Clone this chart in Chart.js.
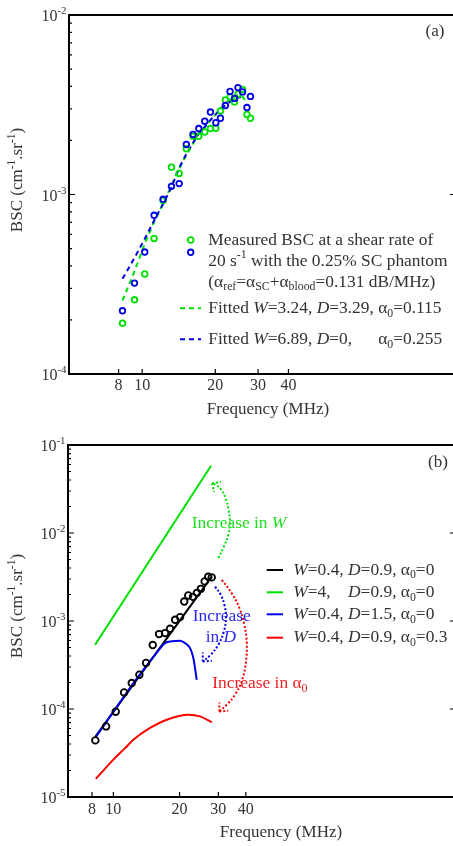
<!DOCTYPE html>
<html><head><meta charset="utf-8">
<script src="https://cdn.jsdelivr.net/npm/chart.js@4/dist/chart.umd.min.js"></script>
<style>
html,body{margin:0;padding:0;background:#fff;overflow:hidden;width:453px;height:846px;}
#wa{position:absolute;left:0;top:0;}
#wb{position:absolute;left:0;top:420px;}
canvas{display:block;}
</style></head><body>
<div id="wa"><canvas id="ca" width="470" height="420"></canvas></div>
<div id="wb"><canvas id="cb" width="470" height="426"></canvas></div>
<script>
// ---------- Panel (a) data ----------
const freqA = [8.3, 9.3, 10.25, 11.2, 12.2, 13.2, 14.2, 15.2, 16.2, 17.1, 18.1, 19.1, 20.1, 21.0, 22.0, 23.0, 24.0, 24.8, 25.9, 27.0, 27.9];
const measGreenA = [1.92e-4, 2.59e-4, 3.61e-4, 5.69e-4, 9.27e-4, 1.42e-3, 1.31e-3, 1.80e-3, 2.11e-3, 2.11e-3, 2.23e-3, 2.33e-3, 2.34e-3, 2.92e-3, 3.36e-3, 3.50e-3, 3.28e-3, 3.62e-3, 3.85e-3, 2.79e-3, 2.66e-3];
const measBlueA = [2.25e-4, 3.21e-4, 4.78e-4, 7.66e-4, 9.40e-4, 1.11e-3, 1.15e-3, 1.90e-3, 2.16e-3, 2.33e-3, 2.56e-3, 2.88e-3, 2.51e-3, 2.66e-3, 3.13e-3, 3.75e-3, 3.43e-3, 3.94e-3, 3.73e-3, 3.05e-3, 3.52e-3];
const fitFreqGreenA = [8.3, 9.3, 10.25, 11.2, 12.2, 13.2, 14.2, 15.2, 16.2, 17.1, 18.1, 19.1, 20.1, 21.0, 22.0, 23.0, 24.0, 24.8, 25.9, 27.0];
const fitGreenA = [2.57e-4, 3.74e-4, 5.31e-4, 7.02e-4, 8.89e-4, 1.125e-3, 1.394e-3, 1.654e-3, 1.922e-3, 2.185e-3, 2.38e-3, 2.594e-3, 2.80e-3, 3.01e-3, 3.21e-3, 3.38e-3, 3.50e-3, 3.58e-3, 3.50e-3, 3.21e-3];
const fitFreqBlueA = [8.3, 9.3, 10.25, 11.2, 12.2, 13.2, 14.2, 15.2, 16.2, 17.1, 18.1, 19.1, 20.1, 21.0, 22.0, 23.0, 24.0, 24.8, 25.9];
const fitBlueA = [3.39e-4, 4.44e-4, 5.67e-4, 7.17e-4, 8.89e-4, 1.101e-3, 1.40e-3, 1.68e-3, 1.94e-3, 2.18e-3, 2.38e-3, 2.594e-3, 2.80e-3, 2.975e-3, 3.147e-3, 3.28e-3, 3.38e-3, 3.455e-3, 3.50e-3];
const xTicksA = [8, 10, 20, 30, 40];
const yTicksA = [1e-4, 1e-3, 1e-2];
const yExpA = ['-4', '-3', '-2'];

// ---------- Panel (b) data ----------
const freqB = [8.28, 9.27, 10.25, 11.19, 12.12, 13.13, 14.08, 15.1, 16.13, 17.18, 18.1, 19.08, 20.1, 21.0, 21.9, 23.0, 24.0, 25.0, 26.0, 27.0, 28.0];
const measB = [4.40e-5, 6.34e-5, 9.32e-5, 1.543e-4, 1.973e-4, 2.45e-4, 3.33e-4, 5.33e-4, 7.10e-4, 7.29e-4, 8.15e-4, 1.032e-3, 1.107e-3, 1.664e-3, 1.948e-3, 1.88e-3, 2.09e-3, 2.32e-3, 2.82e-3, 3.18e-3, 3.13e-3];
const blackFreqB = [8.3, 28.0];
const blackB = [4.89e-5, 3.20e-3];
const greenFreqB = [8.26, 27.8];
const greenB = [5.37e-4, 5.82e-2];
const blueFreqB = [8.28, 10.0, 11.19, 12.55, 14.08, 15.47, 17.18, 18.49, 20.1, 21.18, 22.32, 23.1, 23.93];
const blueB = [4.72e-5, 9.3e-5, 1.39e-4, 2.09e-4, 3.05e-4, 4.13e-4, 5.61e-4, 5.88e-4, 5.96e-4, 5.61e-4, 4.92e-4, 3.79e-4, 2.15e-4];
const redFreqB = [8.32, 10.0, 11.3, 12.33, 14.68, 17.49, 21.93, 24.77, 28.02];
const redB = [1.605e-5, 2.66e-5, 3.59e-5, 4.48e-5, 6.09e-5, 7.56e-5, 8.62e-5, 8.24e-5, 7.05e-5];
const arrowGreenF = [30.0, 31.8, 33.3, 33.9, 33.4, 32.4, 30.8, 29.3, 28.1];
const arrowGreenV = [5.18e-3, 7.01e-3, 9.52e-3, 1.29e-2, 1.83e-2, 2.48e-2, 3.14e-2, 3.52e-2, 3.67e-2];
const arrowBlueF = [29.0, 30.8, 31.96, 32.5, 31.8, 30.0, 27.7, 25.5];
const arrowBlueV = [2.46e-3, 1.98e-3, 1.53e-3, 1.12e-3, 7.6e-4, 5.37e-4, 4.13e-4, 3.47e-4];
const arrowRedF = [31.1, 34.5, 37.4, 39.4, 40.4, 40.0, 38.3, 35.7, 32.8, 30.3];
const arrowRedV = [2.94e-3, 2.07e-3, 1.40e-3, 9.05e-4, 5.61e-4, 3.33e-4, 2.06e-4, 1.45e-4, 1.12e-4, 9.39e-5];
const xTicksB = [8, 10, 20, 30, 40];
const yTicksB = [1e-5, 1e-4, 1e-3, 1e-2, 1e-1];
const yExpB = ['-5', '-4', '-3', '-2', '-1'];

// ---------- colours / text ----------
const C_GREEN = '#00e000', C_BLUE = '#0000e6', C_RED = '#ff0000', C_TXT = '#333333';
const FAM = '"Liberation Serif", "Times New Roman", serif';

function pts(xs, ys) { return xs.map((x, i) => ({x: x, y: ys[i]})); }
function fnt(size, it) { return (it ? 'italic ' : '') + size.toFixed(1) + 'px ' + FAM; }
function partSize(p, size) { return (p.sub || p.sup) ? size * 0.68 : size; }
function richWidth(ctx, parts, size) {
  let w = 0;
  parts.forEach(p => { ctx.font = fnt(partSize(p, size), p.it); w += ctx.measureText(p.t).width; });
  return w;
}
function drawRich(ctx, parts, x, y, size, color, align) {
  const w = richWidth(ctx, parts, size);
  let cx = align === 'center' ? x - w / 2 : (align === 'right' ? x - w : x);
  const pos = [];
  ctx.fillStyle = color; ctx.textBaseline = 'middle'; ctx.textAlign = 'left';
  parts.forEach(p => {
    const s = partSize(p, size);
    ctx.font = fnt(s, p.it);
    const dy = p.sub ? size * 0.30 : (p.sup ? -size * 0.34 : 0);
    pos.push(cx);
    ctx.fillText(p.t, cx, y + dy);
    cx += ctx.measureText(p.t).width;
  });
  return pos;
}

function drawAxesFrame(chart, xTicks, yTicks, yExp, xLabelY) {
  const ctx = chart.ctx, a = chart.chartArea, xs = chart.scales.x, ys = chart.scales.y;
  ctx.save();
  ctx.strokeStyle = '#000'; ctx.lineWidth = 1.2;
  const dMin = Math.round(Math.log10(ys.min)), dMax = Math.round(Math.log10(ys.max));
  ctx.beginPath();
  for (let d = dMin; d <= dMax; d++) {
    for (let k = 1; k <= 9; k++) {
      const v = k * Math.pow(10, d);
      if (v > ys.max * 1.0001) break;
      const py = ys.getPixelForValue(v);
      const len = k === 1 ? 6 : 3;
      ctx.moveTo(a.left, py); ctx.lineTo(a.left + len, py);
      ctx.moveTo(a.right, py); ctx.lineTo(a.right - len, py);
    }
  }
  xTicks.forEach(t => {
    const px = xs.getPixelForValue(t);
    ctx.moveTo(px, a.bottom); ctx.lineTo(px, a.bottom - 5);
  });
  ctx.stroke();
  ctx.lineWidth = 2;
  ctx.strokeRect(a.left, a.top, a.right - a.left, a.bottom - a.top);
  ctx.fillStyle = C_TXT; ctx.font = fnt(16, false); ctx.textAlign = 'center'; ctx.textBaseline = 'middle';
  xTicks.forEach(t => { ctx.fillText(String(t), xs.getPixelForValue(t), xLabelY); });
  yTicks.forEach((t, i) => {
    drawRich(ctx, [{t: '10'}, {t: yExp[i], sup: 1}], a.left - 2.5, ys.getPixelForValue(t) + 2, 16, C_TXT, 'right');
  });
  ctx.restore();
}
function drawYTitle(ctx, cx, cy) {
  ctx.save(); ctx.translate(cx, cy); ctx.rotate(-Math.PI / 2);
  drawRich(ctx, [{t: 'BSC (cm'}, {t: '-1', sup: 1}, {t: '.sr'}, {t: '-1', sup: 1}, {t: ')'}], 0, 0, 17, C_TXT, 'center');
  ctx.restore();
}
function drawXTitle(ctx, cx, cy) {
  drawRich(ctx, [{t: 'Frequency (MHz)'}], cx, cy, 17, C_TXT, 'center');
}

Chart.defaults.font.family = FAM;

// ---------- Chart (a) ----------
const plugA = {
  id: 'decoA',
  afterDraw(chart) {
    const ctx = chart.ctx;
    drawAxesFrame(chart, xTicksA, yTicksA, yExpA, 386);
    drawYTitle(ctx, 18, 180);
    drawXTitle(ctx, 268, 410);
    ctx.save();
    drawRich(ctx, [{t: '(a)'}], 435, 32, 17, C_TXT, 'center');
    ctx.lineWidth = 1.8;
    [[C_GREEN, 240], [C_BLUE, 252.3]].forEach(m => {
      ctx.strokeStyle = m[0]; ctx.beginPath(); ctx.arc(190.7, m[1], 2.8, 0, 2 * Math.PI); ctx.stroke();
    });
    const L = 208.3, S = 17.4;
    drawRich(ctx, [{t: 'Measured BSC at a shear rate of'}], L, 240, S, C_TXT, 'left');
    drawRich(ctx, [{t: '20 s'}, {t: '-1', sup: 1}, {t: ' with the 0.25% SC phantom'}], L, 261, S, C_TXT, 'left');
    drawRich(ctx, [{t: '(α'}, {t: 'ref', sub: 1}, {t: '=α'}, {t: 'SC', sub: 1}, {t: '+α'}, {t: 'blood', sub: 1}, {t: '=0.131 dB/MHz)'}], L, 282, S, C_TXT, 'left');
    ctx.lineWidth = 2; ctx.setLineDash([5, 4]);
    [[C_GREEN, 308.3], [C_BLUE, 339.3]].forEach(m => {
      ctx.strokeStyle = m[0]; ctx.beginPath(); ctx.moveTo(180, m[1]); ctx.lineTo(201, m[1]); ctx.stroke();
    });
    ctx.setLineDash([]);
    const p4 = drawRich(ctx, [{t: 'Fitted '}, {t: 'W', it: 1}, {t: '=3.24, '}, {t: 'D', it: 1}, {t: '=3.29, '}, {t: 'α'}, {t: '0', sub: 1}, {t: '=0.115'}], L, 308.3, S, C_TXT, 'left');
    drawRich(ctx, [{t: 'Fitted '}, {t: 'W', it: 1}, {t: '=6.89, '}, {t: 'D', it: 1}, {t: '=0,'}], L, 339.3, S, C_TXT, 'left');
    drawRich(ctx, [{t: 'α'}, {t: '0', sub: 1}, {t: '=0.255'}], p4[5], 339.3, S, C_TXT, 'left');
    ctx.restore();
  }
};

new Chart(document.getElementById('ca'), {
  type: 'scatter',
  data: {
    datasets: [
      {data: pts(freqA, measBlueA), showLine: false, pointStyle: 'circle', pointRadius: 2.8, pointBorderWidth: 1.8, borderColor: C_BLUE, backgroundColor: 'rgba(0,0,0,0)'},
      {data: pts(freqA, measGreenA), showLine: false, pointStyle: 'circle', pointRadius: 2.8, pointBorderWidth: 1.8, borderColor: C_GREEN, backgroundColor: 'rgba(0,0,0,0)'},
      {data: pts(fitFreqBlueA, fitBlueA), showLine: true, pointRadius: 0, borderColor: C_BLUE, borderWidth: 2, borderDash: [5, 4], cubicInterpolationMode: 'monotone'},
      {data: pts(fitFreqGreenA, fitGreenA), showLine: true, pointRadius: 0, borderColor: C_GREEN, borderWidth: 2, borderDash: [5, 4], cubicInterpolationMode: 'monotone'}
    ]
  },
  options: {
    responsive: false, animation: false, devicePixelRatio: 1, events: [],
    layout: {padding: {left: 69, top: 15, right: 14, bottom: 46}},
    plugins: {legend: {display: false}, tooltip: {enabled: false}},
    scales: {
      x: {type: 'logarithmic', min: 5, max: 195.7, display: false},
      y: {type: 'logarithmic', min: 1e-4, max: 1e-2, display: false}
    }
  },
  plugins: [plugA]
});

// ---------- Chart (b) ----------
function arrowHead(chart, fx, fy, color) {
  const xs = chart.scales.x, ys = chart.scales.y, n = fx.length;
  const tx = xs.getPixelForValue(fx[n - 1]), ty = ys.getPixelForValue(fy[n - 1]);
  const bx = xs.getPixelForValue(fx[n - 3]), by = ys.getPixelForValue(fy[n - 3]);
  const ang = Math.atan2(by - ty, bx - tx);
  const ctx = chart.ctx;
  ctx.save(); ctx.strokeStyle = color; ctx.lineWidth = 2; ctx.setLineDash([2, 2]);
  [-0.75, 0.75].forEach(da => {
    ctx.beginPath(); ctx.moveTo(tx, ty);
    ctx.lineTo(tx + 9 * Math.cos(ang + da), ty + 9 * Math.sin(ang + da)); ctx.stroke();
  });
  ctx.restore();
}
const plugB = {
  id: 'decoB',
  afterDraw(chart) {
    const ctx = chart.ctx;
    drawAxesFrame(chart, xTicksB, yTicksB, yExpB, 389.3);
    drawYTitle(ctx, 18, 186);
    drawXTitle(ctx, 281, 412.7);
    arrowHead(chart, arrowGreenF, arrowGreenV, C_GREEN);
    arrowHead(chart, arrowBlueF, arrowBlueV, C_BLUE);
    arrowHead(chart, arrowRedF, arrowRedV, C_RED);
    ctx.save();
    drawRich(ctx, [{t: '(b)'}], 438, 43, 17, C_TXT, 'center');
    const S = 17.4;
    drawRich(ctx, [{t: 'Increase in '}, {t: 'W', it: 1}], 191.7, 103.3, S, '#22dd22', 'left');
    drawRich(ctx, [{t: 'Increase'}], 192.7, 196.7, S, '#2a2aee', 'left');
    drawRich(ctx, [{t: 'in '}, {t: 'D', it: 1}], 205.7, 217.3, S, '#2a2aee', 'left');
    drawRich(ctx, [{t: 'Increase in α'}, {t: '0', sub: 1}], 212.3, 263.3, S, '#ee2222', 'left');
    const rows = [['#000000', 150], [C_GREEN, 172.3], [C_BLUE, 194.3], [C_RED, 217.7]];
    ctx.lineWidth = 2;
    rows.forEach(r => { ctx.strokeStyle = r[0]; ctx.beginPath(); ctx.moveTo(266.7, r[1]); ctx.lineTo(283, r[1]); ctx.stroke(); });
    const L = 293.3;
    const p1 = drawRich(ctx, [{t: 'W', it: 1}, {t: '=0.4, '}, {t: 'D', it: 1}, {t: '=0.9, α'}, {t: '0', sub: 1}, {t: '=0'}], L, 150, S, C_TXT, 'left');
    drawRich(ctx, [{t: 'W', it: 1}, {t: '=4,'}], L, 172.3, S, C_TXT, 'left');
    drawRich(ctx, [{t: 'D', it: 1}, {t: '=0.9, α'}, {t: '0', sub: 1}, {t: '=0'}], p1[2], 172.3, S, C_TXT, 'left');
    drawRich(ctx, [{t: 'W', it: 1}, {t: '=0.4, '}, {t: 'D', it: 1}, {t: '=1.5, α'}, {t: '0', sub: 1}, {t: '=0'}], L, 194.3, S, C_TXT, 'left');
    drawRich(ctx, [{t: 'W', it: 1}, {t: '=0.4, '}, {t: 'D', it: 1}, {t: '=0.9, α'}, {t: '0', sub: 1}, {t: '=0.3'}], L, 217.7, S, C_TXT, 'left');
    ctx.restore();
  }
};
const dotted = {showLine: true, pointRadius: 0, borderWidth: 2, borderDash: [2, 2], tension: 0.4};
new Chart(document.getElementById('cb'), {
  type: 'scatter',
  data: {
    datasets: [
      {data: pts(freqB, measB), showLine: false, pointStyle: 'circle', pointRadius: 3.3, pointBorderWidth: 1.8, borderColor: '#000', backgroundColor: 'rgba(0,0,0,0)'},
      {data: pts(blueFreqB, blueB), showLine: true, pointRadius: 0, borderColor: C_BLUE, borderWidth: 2, cubicInterpolationMode: 'monotone'},
      {data: pts(blackFreqB, blackB), showLine: true, pointRadius: 0, borderColor: '#000', borderWidth: 2},
      {data: pts(greenFreqB, greenB), showLine: true, pointRadius: 0, borderColor: C_GREEN, borderWidth: 2},
      {data: pts(redFreqB, redB), showLine: true, pointRadius: 0, borderColor: C_RED, borderWidth: 2, cubicInterpolationMode: 'monotone'},
      Object.assign({data: pts(arrowGreenF, arrowGreenV), borderColor: C_GREEN}, dotted),
      Object.assign({data: pts(arrowBlueF, arrowBlueV), borderColor: C_BLUE}, dotted),
      Object.assign({data: pts(arrowRedF, arrowRedV), borderColor: C_RED}, dotted)
    ]
  },
  options: {
    responsive: false, animation: false, devicePixelRatio: 1, events: [],
    layout: {padding: {left: 68, top: 25, right: 14, bottom: 49}},
    plugins: {legend: {display: false}, tooltip: {enabled: false}},
    scales: {
      x: {type: 'logarithmic', min: 6.22, max: 361, display: false},
      y: {type: 'logarithmic', min: 1e-5, max: 1e-1, display: false}
    }
  },
  plugins: [plugB]
});
</script>
</body></html>
